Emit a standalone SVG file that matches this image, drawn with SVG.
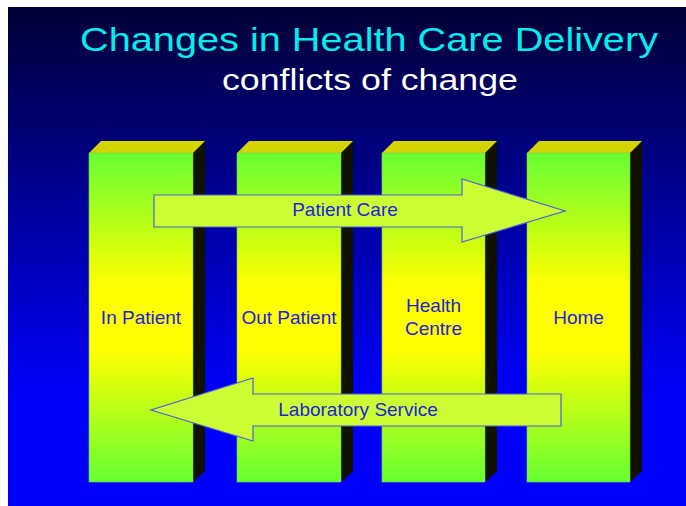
<svg xmlns="http://www.w3.org/2000/svg" width="686" height="506" viewBox="0 0 686 506">
<defs>
<linearGradient id="bg" x1="0" y1="0" x2="0" y2="1">
<stop offset="0" stop-color="#000035"/>
<stop offset="0.79" stop-color="#0000ff"/>
<stop offset="1" stop-color="#0000ff"/>
</linearGradient>
<linearGradient id="col" x1="0" y1="0" x2="0" y2="1">
<stop offset="0" stop-color="#66ff33"/>
<stop offset="0.4" stop-color="#ffff00"/>
<stop offset="0.6" stop-color="#ffff00"/>
<stop offset="1" stop-color="#66ff33"/>
</linearGradient>
</defs>
<style>
.front{fill:url(#col);stroke:#77cc55;stroke-width:0.6}
.top{fill:#d4d400}
.side{fill:#111100}
.lbl{font-family:"Liberation Sans",Arial,sans-serif;font-size:19px;fill:#2222dd;text-anchor:middle}
.arrow{fill:#ccff33;stroke:#4d5ee0;stroke-width:1.2}
</style>
<rect x="0" y="0" width="686" height="506" fill="#ffffff"/>
<rect x="8" y="7" width="678" height="499" fill="url(#bg)"/>
<text x="369" y="51" font-family="Liberation Sans, Arial, sans-serif" font-size="33" fill="#00eeee" text-anchor="middle" textLength="578" lengthAdjust="spacingAndGlyphs">Changes in Health Care Delivery</text>
<text x="370" y="90" font-family="Liberation Sans, Arial, sans-serif" font-size="30" fill="#ffffff" text-anchor="middle" textLength="296" lengthAdjust="spacingAndGlyphs">conflicts of change</text>
<g id="col-inpatient">
<polygon class="side" points="193,153 205,141 205,471 193,482"/>
<polygon class="top" points="89,153 101,141 205,141 193,153"/>
<rect class="front" x="89" y="153" width="104" height="329"/>
<text class="lbl" x="141" y="324">In Patient</text>
</g>
<g id="col-outpatient">
<polygon class="side" points="341,153 353,141 353,471 341,482"/>
<polygon class="top" points="237,153 249,141 353,141 341,153"/>
<rect class="front" x="237" y="153" width="104" height="329"/>
<text class="lbl" x="289" y="324">Out Patient</text>
</g>
<g id="col-healthcentre">
<polygon class="side" points="485,153 497,141 497,471 485,482"/>
<polygon class="top" points="382,153 394,141 497,141 485,153"/>
<rect class="front" x="382" y="153" width="103" height="329"/>
<text class="lbl" x="433.5" y="312">Health</text>
<text class="lbl" x="433.5" y="335">Centre</text>
</g>
<g id="col-home">
<polygon class="side" points="630,153 642,141 642,471 630,482"/>
<polygon class="top" points="527,153 539,141 642,141 630,153"/>
<rect class="front" x="527" y="153" width="103" height="329"/>
<text class="lbl" x="578.5" y="324">Home</text>
</g>
<g id="connectors">
<g id="arrow-patientcare">
<polygon class="arrow" points="154,195 462,195 462,179 565,211 462,242 462,227 154,227"/>
<text class="lbl" x="345" y="216" font-size="18">Patient Care</text>
</g>
<g id="arrow-laboratory">
<polygon class="arrow" points="561,394 253,394 253,378 151,410 253,441 253,426 561,426"/>
<text class="lbl" x="358" y="416" font-size="18">Laboratory Service</text>
</g>
</g>
</svg>
